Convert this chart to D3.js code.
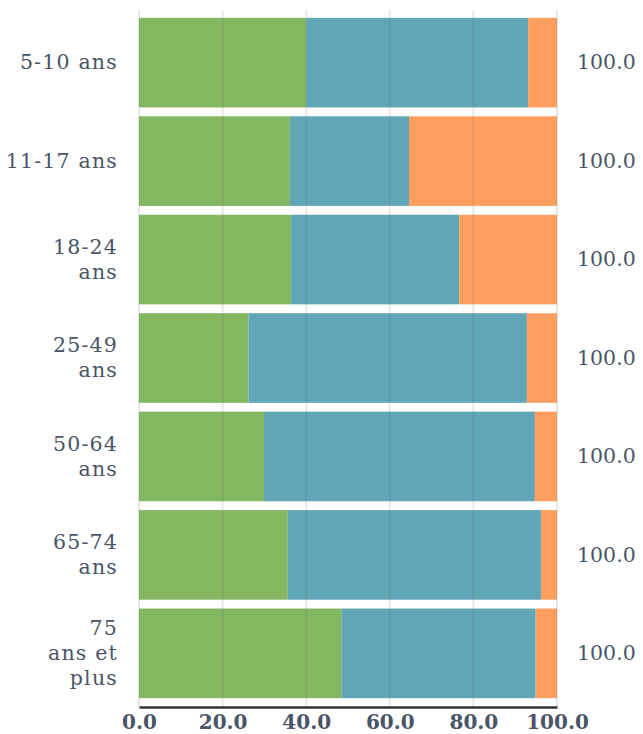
<!DOCTYPE html>
<html>
<head>
<meta charset="utf-8">
<script src="https://cdn.jsdelivr.net/npm/d3@7"></script>
<style>
  html, body { margin: 0; padding: 0; background: #fff; }
  svg { display: block; }
</style>
</head>
<body>
<svg id="chart" width="643" height="734"></svg>
<script>
// ---- data ----
const categories = ["5-10 ans", "11-17 ans", "18-24 ans", "25-49 ans", "50-64 ans", "65-74 ans", "75 ans et plus"];
const categoryLines = [["5-10 ans"], ["11-17 ans"], ["18-24", "ans"], ["25-49", "ans"], ["50-64", "ans"], ["65-74", "ans"], ["75", "ans et", "plus"]];
const seriesNames = ["A", "B", "C"];
const seriesA = [40.0, 36.1, 36.4, 26.2, 29.9, 35.6, 48.5];
const seriesB = [53.1, 28.5, 40.2, 66.6, 64.8, 60.6, 46.4];
const seriesC = [6.9, 35.4, 23.4, 7.2, 5.3, 3.8, 5.1];
const totals = [100.0, 100.0, 100.0, 100.0, 100.0, 100.0, 100.0];
const xTicks = [0, 20, 40, 60, 80, 100];
const colors = ["#84b761", "#60a6b7", "#ff9f5f"];

// ---- layout ----
const svg = d3.select("#chart");
const margin = { left: 139, right: 86, top: 8, bottom: 27 };
const W = 643, H = 734;
const x = d3.scaleLinear().domain([0, 100]).range([margin.left, W - margin.right]);
const y = d3.scaleBand().domain(categories).range([margin.top, H - margin.bottom]).paddingInner(0.1).paddingOuter(0.1);

const rows = categories.map((c, i) => ({ cat: c, vals: [seriesA[i], seriesB[i], seriesC[i]] }));
const stackData = rows.map(r => { const o = { cat: r.cat }; seriesNames.forEach((s, j) => o[s] = r.vals[j]); return o; });
const stacked = d3.stack().keys(seriesNames)(stackData);

const textColor = "#4a5568";
const fontFam = "'DejaVu Serif', serif";

// bars
svg.append("g").selectAll("g").data(stacked).join("g")
  .attr("fill", (d, i) => colors[i])
  .selectAll("rect").data(d => d).join("rect")
  .attr("x", d => x(d[0]))
  .attr("width", d => x(d[1]) - x(d[0]))
  .attr("y", d => y(d.data.cat))
  .attr("height", y.bandwidth() + 1);

// gridlines (drawn over bars, translucent)
svg.append("g").selectAll("line").data(xTicks).join("line")
  .attr("x1", d => x(d)).attr("x2", d => x(d))
  .attr("y1", 10).attr("y2", H - margin.bottom)
  .attr("stroke", "rgba(110,110,110,0.16)")
  .attr("stroke-width", 2);

// x axis
const xAxis = d3.axisBottom(x).tickValues(xTicks).tickFormat(d3.format(".1f")).tickSize(0).tickPadding(8);
const gx = svg.append("g").attr("transform", `translate(0,${H - margin.bottom})`).call(xAxis);
gx.select(".domain").attr("stroke", "#333").attr("stroke-width", 2.5);
gx.selectAll("text").attr("font-family", fontFam).attr("font-size", 20).attr("font-weight", "bold").attr("fill", textColor).attr("dy", "0.72em");

// category labels
const lineH = 25;
const labels = svg.append("g").selectAll("text").data(categories).join("text")
  .attr("x", 118)
  .attr("text-anchor", "end")
  .attr("font-family", fontFam)
  .attr("font-size", 20.5)
  .attr("letter-spacing", 1.2)
  .attr("fill", textColor);
labels.each(function (c, i) {
  const lines = categoryLines[i];
  const cy = y(c) + y.bandwidth() / 2;
  const startY = cy - (lines.length - 1) * lineH / 2;
  d3.select(this).selectAll("tspan").data(lines).join("tspan")
    .attr("x", 118)
    .attr("y", (d, k) => startY + k * lineH)
    .attr("dy", "0.35em")
    .text(d => d);
});

// totals on the right
svg.append("g").selectAll("text").data(categories).join("text")
  .attr("x", 577)
  .attr("y", c => y(c) + y.bandwidth() / 2)
  .attr("dy", "0.35em")
  .attr("font-family", fontFam)
  .attr("font-size", 20.5)
  .attr("fill", textColor)
  .text((c, i) => d3.format(".1f")(totals[i]));
</script>
</body>
</html>
